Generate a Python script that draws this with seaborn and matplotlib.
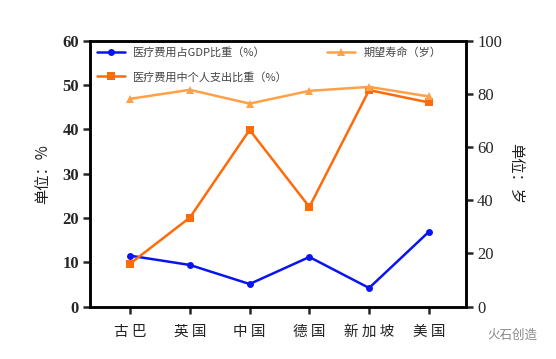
import matplotlib
matplotlib.use("Agg")
import matplotlib.pyplot as plt
import seaborn as sns
import pandas as pd

# data
countries = ["古巴", "英国", "中国", "德国", "新加坡", "美国"]
gdp_share = [11.5, 9.4, 5.1, 11.2, 4.2, 16.9]          # 医疗费用占GDP比重（%）
oop_share = [9.7, 20.1, 39.9, 22.5, 48.9, 46.1]        # 医疗费用中个人支出比重（%）
life_exp = [78.2, 81.6, 76.4, 81.2, 82.7, 79.1]        # 期望寿命（岁）

df = pd.DataFrame({
    "country": countries,
    "gdp": gdp_share,
    "oop": oop_share,
    "life": life_exp,
})
df["x"] = range(len(df))

sns.set_style("ticks")
plt.rcParams["font.family"] = ["Noto Sans CJK SC", "DejaVu Sans"]
plt.rcParams["axes.linewidth"] = 1.8

fig = plt.figure(figsize=(5.56, 3.59), dpi=100)
ax = fig.add_axes([0.162, 0.146, 0.676, 0.74])
ax2 = ax.twinx()

sns.lineplot(data=df, x="x", y="gdp", ax=ax, color="#0A14F0", marker="o",
             markersize=5, markeredgewidth=0, linewidth=1.8,
             label="医疗费用占GDP比重（%）")
sns.lineplot(data=df, x="x", y="oop", ax=ax, color="#FF6A0A", marker="s",
             markersize=5.5, markeredgewidth=0, linewidth=1.8,
             label="医疗费用中个人支出比重（%）")
sns.lineplot(data=df, x="x", y="life", ax=ax2, color="#FFA04A", marker="^",
             markersize=5.5, markeredgewidth=0, linewidth=1.8,
             label="期望寿命（岁）")

ax.set_xlim(-0.67, 5.62)
ax.set_ylim(0, 60)
ax2.set_ylim(0, 100)
ax.set_yticks(range(0, 61, 10))
ax2.set_yticks(range(0, 101, 20))
ax.set_xticks(df["x"])
ax.set_xticklabels([" ".join(c) for c in countries], fontsize=10.5,
                   color="#222222")
ax.set_xlabel("")
ax.set_ylabel("单位：%", fontsize=11, labelpad=8, color="#222222")
ax2.set_ylabel("单位：岁", fontsize=11, rotation=270, labelpad=16,
               color="#222222")

for lab in ax.get_yticklabels():
    lab.set_fontfamily("Liberation Serif")
    lab.set_fontweight("bold")
    lab.set_fontsize(12)
for lab in ax2.get_yticklabels():
    lab.set_fontfamily("Liberation Serif")
    lab.set_fontsize(12)

ax.tick_params(axis="both", direction="out", length=5, width=1.8, pad=3)
ax2.tick_params(axis="y", direction="out", length=5, width=1.8, pad=3)
ax.tick_params(axis="x", pad=8)

for a in (ax, ax2):
    for s in a.spines.values():
        s.set_visible(True)
        s.set_color("black")
        s.set_linewidth(1.8)

# merge legends from both axes
h1, l1 = ax.get_legend_handles_labels()
h2, l2 = ax2.get_legend_handles_labels()
ax2.get_legend().remove()
ax.get_legend().remove()
leg = ax2.legend(h1 + h2, l1 + l2, ncol=2, loc="upper left",
                 bbox_to_anchor=(0.0, 1.0), frameon=False, fontsize=8,
                 handlelength=2.5, columnspacing=3.5, labelspacing=1.2,
                 borderaxespad=0.2)
for t in leg.get_texts():
    t.set_color("#444444")

fig.text(0.922, 0.067, "火石创造", fontsize=9, color="#888888",
         ha="center", va="center")

fig.savefig("out.png", dpi=100)
plt.close(fig)
